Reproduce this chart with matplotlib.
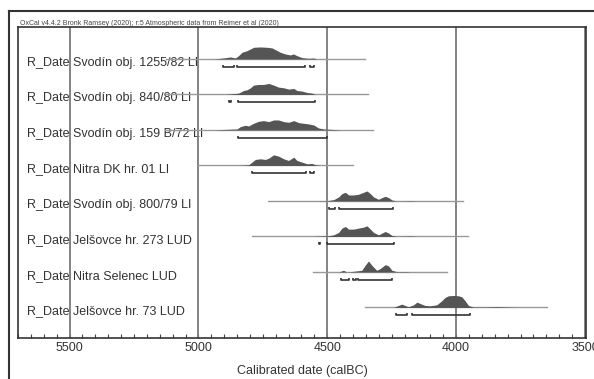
import matplotlib
matplotlib.use("Agg")
import matplotlib.pyplot as plt
from matplotlib.lines import Line2D
import numpy as np

plt.rcParams["font.family"] = ["Liberation Sans", "DejaVu Sans"]

# sample labels, top to bottom
labels = [
    "R_Date Svodín obj. 1255/82 LI",
    "R_Date Svodín obj. 840/80 LI",
    "R_Date Svodín obj. 159 B/72 LI",
    "R_Date Nitra DK hr. 01 LI",
    "R_Date Svodín obj. 800/79 LI",
    "R_Date Jelšovce hr. 273 LUD",
    "R_Date Nitra Selenec LUD",
    "R_Date Jelšovce hr. 73 LUD",
]

# extent of the thin baseline for each date (calBC)
line_start = [5125, 5130, 5130, 5000, 4729, 4791, 4554, 4353]
line_end = [4353, 4341, 4322, 4400, 3973, 3953, 4035, 3647]

# calibrated distributions (year calBC, relative probability)
years_1 = [4941, 4902, 4876, 4857, 4844, 4831, 4811, 4798, 4786, 4760, 4734,
           4714, 4702, 4682, 4663, 4643, 4631, 4618, 4598, 4572, 4553, 4540]
prob_1 = [0, 3, 6, 3, 10, 20, 25, 30, 35, 36, 35, 33, 28, 20, 15, 12, 15, 10, 4, 2, 3, 0]

years_2 = [4895, 4869, 4844, 4824, 4811, 4798, 4786, 4766, 4747, 4727, 4708,
           4689, 4669, 4650, 4630, 4618, 4598, 4579, 4559, 4546]
prob_2 = [0, 2, 4, 12, 14, 20, 28, 30, 30, 33, 28, 22, 20, 16, 18, 12, 10, 6, 4, 0]

years_3 = [4941, 4889, 4850, 4837, 4818, 4805, 4786, 4766, 4747, 4727, 4708, 4689,
           4669, 4650, 4630, 4611, 4592, 4572, 4553, 4534, 4514, 4488, 4463, 4450]
prob_3 = [0, 2, 3, 10, 14, 12, 20, 26, 28, 25, 30, 30, 25, 23, 28, 22, 20, 18, 15, 6, 3, 2, 1, 0]

years_4 = [4837, 4805, 4792, 4779, 4760, 4740, 4727, 4708, 4689, 4669, 4650,
           4630, 4618, 4598, 4579, 4559, 4546, 4527]
prob_4 = [0, 2, 10, 18, 20, 18, 22, 32, 28, 20, 15, 25, 15, 10, 5, 6, 2, 0]

years_5 = [4540, 4501, 4475, 4456, 4443, 4430, 4417, 4398, 4379, 4359, 4346,
           4333, 4320, 4301, 4288, 4275, 4262, 4249, 4230, 4178, 4152]
prob_5 = [0, 1, 4, 12, 22, 26, 18, 18, 20, 26, 30, 22, 12, 5, 10, 14, 10, 3, 0, 1, 0]

years_6 = [4553, 4495, 4475, 4456, 4443, 4430, 4417, 4398, 4379, 4359, 4346,
           4333, 4320, 4301, 4288, 4275, 4262, 4249, 4230, 4178, 4152]
prob_6 = [0, 2, 5, 12, 25, 30, 22, 22, 25, 28, 32, 22, 12, 5, 10, 15, 10, 3, 0, 1, 0]

years_7 = [4456, 4437, 4424, 4398, 4366, 4353, 4340, 4327, 4308, 4295, 4275,
           4262, 4249, 4230, 4191, 4178]
prob_7 = [0, 5, 0, 2, 5, 20, 33, 20, 5, 10, 22, 18, 5, 1, 1, 0]

years_8 = [4243, 4224, 4211, 4198, 4185, 4165, 4152, 4140, 4120, 4101, 4075, 4056,
           4043, 4030, 4010, 3991, 3978, 3965, 3952, 3933, 3881, 3842, 3804, 3765]
prob_8 = [0, 6, 10, 6, 2, 8, 16, 12, 6, 5, 8, 20, 30, 35, 36, 35, 32, 20, 6, 1, 1, 2, 1, 0]

# 95.4% ranges (from, to) calBC
ranges_1 = [(4905, 4860), (4850, 4585), (4568, 4550)]
ranges_2 = [(4880, 4872), (4848, 4546)]
ranges_3 = [(4846, 4501)]
ranges_4 = [(4792, 4583), (4566, 4550)]
ranges_5 = [(4495, 4469), (4456, 4245)]
ranges_6 = [(4533, 4527), (4501, 4240)]
ranges_7 = [(4446, 4415), (4402, 4388), (4382, 4249)]
ranges_8 = [(4234, 4191), (4172, 3946)]

dist_years = [years_1, years_2, years_3, years_4, years_5, years_6, years_7, years_8]
dist_prob = [prob_1, prob_2, prob_3, prob_4, prob_5, prob_6, prob_7, prob_8]
dist_ranges = [ranges_1, ranges_2, ranges_3, ranges_4, ranges_5, ranges_6, ranges_7, ranges_8]

major_ticks = [5500, 5000, 4500, 4000, 3500]

fig = plt.figure(figsize=(5.94, 3.79), dpi=100)
ax = fig.add_axes([18 / 594, 1 - 338 / 379, 568 / 594, 311 / 379])
ax.set_xlim(5698, 3496)
ax.set_ylim(7.86, -0.90)

for x in major_ticks:
    ax.axvline(x, color="#7a7a7a", lw=1.3, zorder=2)

height_scale = 1 / 106.5
for i, label in enumerate(labels):
    ax.text(0.016, i + 0.19, label, transform=ax.get_yaxis_transform(),
            fontsize=9, color="#333333", va="baseline", ha="left", zorder=1)
    ax.plot([line_start[i], line_end[i]], [i, i], color="#999999", lw=1.0, zorder=2.5)
    yrs = np.array(dist_years[i])
    p = np.array(dist_prob[i]) * height_scale
    ax.fill_between(yrs, i - p, i, color="#555555", lw=0, zorder=3)
    yb = i + 0.225
    for a, b in dist_ranges[i]:
        ax.plot([a, a, b, b], [yb - 0.06, yb, yb, yb - 0.06], color="#333333",
                lw=1.2, zorder=3, solid_capstyle="butt")

ax.set_yticks([])
ax.set_xticks(major_ticks)
ax.set_xticklabels([str(t) for t in major_ticks], fontsize=9, color="#333333")
ax.set_xticks(np.arange(3500, 5701, 50), minor=True)
ax.tick_params(axis="x", which="both", direction="in", length=3, width=0.8,
               color="#444444", pad=3)
ax.set_xlabel("Calibrated date (calBC)", fontsize=9, color="#333333", labelpad=8)
for s in ax.spines.values():
    s.set_color("#333333")
    s.set_linewidth(1.2)

fig.text(20 / 594, 1 - 25 / 379, "OxCal v4.4.2 Bronk Ramsey (2020); r:5 Atmospheric data from Reimer et al (2020)",
         fontsize=5, color="#444444", va="baseline", ha="left")

# outer frame (top and left edges)
fig.add_artist(Line2D([8.5 / 594, 1.0], [1 - 10.5 / 379, 1 - 10.5 / 379],
                      transform=fig.transFigure, color="#333333", lw=1.5))
fig.add_artist(Line2D([8.5 / 594, 8.5 / 594], [0, 1 - 10.5 / 379],
                      transform=fig.transFigure, color="#333333", lw=1.5))

fig.savefig("out.png", dpi=100)
